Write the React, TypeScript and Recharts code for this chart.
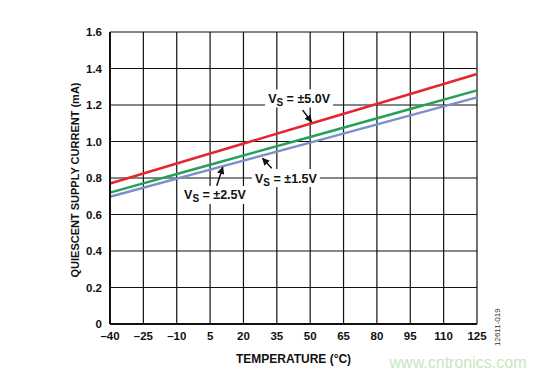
import { LineChart, Line, XAxis, YAxis, CartesianGrid, ReferenceDot } from 'recharts'

const temps = [-40, 5, 50, 95, 125]
const vs50 = [0.77, 0.934, 1.097, 1.26, 1.37]
const vs25 = [0.72, 0.873, 1.025, 1.178, 1.28]
const vs15 = [0.697, 0.846, 0.994, 1.143, 1.242]

const xTicks = [-40, -25, -10, 5, 20, 35, 50, 65, 80, 95, 110, 125]
const yTicks = [0, 0.2, 0.4, 0.6, 0.8, 1.0, 1.2, 1.4, 1.6]

// annotation anchors (data coords): label centre, arrow tail, arrow tip
const notes = [
  { text: '±5.0V', lx: 45, ly: 1.236, ax: 46.6, ay: 1.172, bx: 50.6, by: 1.108 },
  { text: '±1.5V', lx: 39.1, ly: 0.8, ax: 32.7, ay: 0.853, bx: 28.6, by: 0.908 },
  { text: '±2.5V', lx: 7.2, ly: 0.707, ax: 8.0, ay: 0.758, bx: 10.7, by: 0.859 },
]

const data = temps.map((t, i) => ({ t, a: vs50[i], b: vs25[i], c: vs15[i] }))

const font = 'Liberation Sans, Arial, sans-serif'
const fmtX = (v: number) => (v < 0 ? `\u2013${Math.abs(v)}` : `${v}`)
const fmtY = (v: number) => (v === 0 ? '0' : v.toFixed(1))

const Label = ({ cx, cy, text }: any) => (
  <g>
    <rect x={cx - 34} y={cy - 9} width={68} height={18} fill="#fff" />
    <text x={cx} y={cy + 4.5} textAnchor="middle" fontFamily={font} fontWeight="bold" fontSize={12.5} fill="#111">
      V<tspan fontSize={10} dy={3}>S</tspan><tspan dy={-3}> = {text}</tspan>
    </text>
  </g>
)

export default function App() {
  return (
    <div style={{ position: 'absolute', left: 0, top: 0, width: 559, height: 377, background: '#fff' }}>
      <LineChart width={559} height={377} data={data} margin={{ top: 32, right: 82, bottom: 23, left: 60 }}>
        <defs>
          <marker id="ah" viewBox="0 0 10 10" refX="9" refY="5" markerWidth="5" markerHeight="5" orient="auto">
            <path d="M0,0 L10,5 L0,10 z" fill="#111" />
          </marker>
        </defs>
        <CartesianGrid stroke="#111" strokeWidth={1.2} horizontalValues={yTicks} verticalValues={xTicks} />
        <XAxis
          dataKey="t" type="number" domain={[-40, 125]} ticks={xTicks} tickFormatter={fmtX}
          height={30} axisLine={{ stroke: '#111', strokeWidth: 2 }} tickLine={false}
          tick={{ fontSize: 11.5, fontWeight: 'bold', fill: '#111', fontFamily: font }}
          label={{ value: 'TEMPERATURE (°C)', position: 'bottom', offset: 0, style: { fontSize: 12, fontWeight: 'bold', fill: '#111', fontFamily: font } }}
        />
        <YAxis
          type="number" domain={[0, 1.6]} ticks={yTicks} tickFormatter={fmtY} width={50}
          axisLine={{ stroke: '#111', strokeWidth: 2 }} tickLine={false}
          tick={{ fontSize: 11.5, fontWeight: 'bold', fill: '#111', fontFamily: font }}
        />
        <Line dataKey="c" stroke="#7B8FC9" strokeWidth={2.5} dot={false} isAnimationActive={false} />
        <Line dataKey="b" stroke="#25A05B" strokeWidth={2.5} dot={false} isAnimationActive={false} />
        <Line dataKey="a" stroke="#E3262F" strokeWidth={2.5} dot={false} isAnimationActive={false} />
        {notes.map((n) => (
          <ReferenceDot
            key={n.text + 'arrow'} x={n.ax} y={n.ay} r={0} ifOverflow="visible"
            shape={(p: any) => {
              const sx = (477 - 110) / 165
              const sy = (324 - 32) / 1.6
              const x2 = p.cx + (n.bx - n.ax) * sx
              const y2 = p.cy - (n.by - n.ay) * sy
              return <line x1={p.cx} y1={p.cy} x2={x2} y2={y2} stroke="#111" strokeWidth={1.5} markerEnd="url(#ah)" />
            }}
          />
        ))}
        {notes.map((n) => (
          <ReferenceDot key={n.text} x={n.lx} y={n.ly} r={0} ifOverflow="visible" shape={(p: any) => <Label cx={p.cx} cy={p.cy} text={n.text} />} />
        ))}
      </LineChart>
      <svg style={{ position: 'absolute', left: 0, top: 0 }} width={559} height={377}>
        <text x={0} y={0} transform="translate(79,180) rotate(-90)" textAnchor="middle" fontFamily={font} fontWeight="bold" fontSize={11} fill="#111">QUIESCENT SUPPLY CURRENT (mA)</text>
        <text x={0} y={0} transform="translate(500,346) rotate(-90)" fontFamily={font} fontSize={8} fill="#333">12611-019</text>
        <text x={458} y={368} textAnchor="middle" fontFamily={font} fontSize={16} fill="#c8e6c0">www.cntronics.com</text>
      </svg>
    </div>
  )
}
